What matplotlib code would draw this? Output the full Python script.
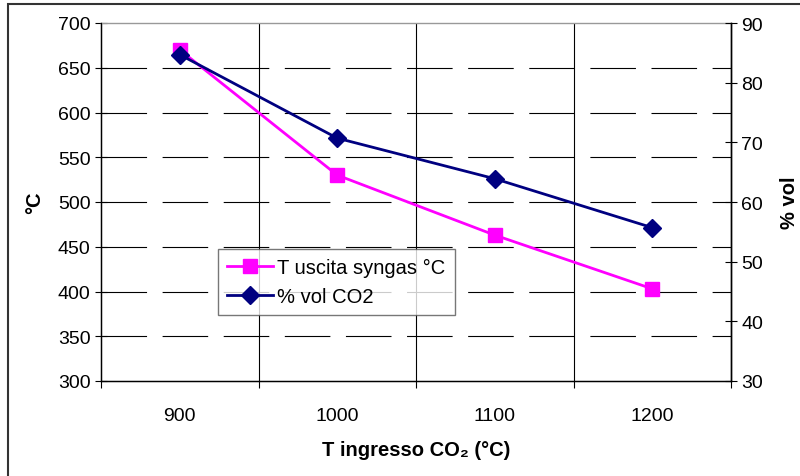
import numpy as np
import matplotlib.pyplot as plt
from matplotlib.patches import Rectangle

plt.rcParams['font.family'] = ['Liberation Sans', 'DejaVu Sans']

# data
categories = ['900', '1000', '1100', '1200']
t_uscita = [670, 530, 463, 403]       # T uscita syngas °C (left axis)
vol_co2 = [84.7, 70.7, 63.9, 55.7]    # % vol CO2 (right axis)

pink = '#FF00FF'
navy = '#000080'

fig = plt.figure(figsize=(8, 4.77), dpi=100)
ax = fig.add_axes([101/800, 1 - 382/477, 630/800, 358/477])
ax2 = ax.twinx()

x = np.arange(len(categories))

# left axis
ax.set_xlim(-0.5, len(categories) - 0.5)
ax.set_ylim(300, 700)
ax.set_yticks(np.arange(300, 701, 50))
ax.set_xticks(x)
ax.set_xticklabels(categories)
ax.set_xticks(np.arange(-0.5, len(categories), 1), minor=True)
ax.tick_params(axis='x', which='major', length=0, pad=19, labelsize=14)
ax.tick_params(axis='x', which='minor', length=5, direction='out', width=0.8)
ax.tick_params(axis='y', length=9, direction='inout', width=0.8, labelsize=14, pad=3)

# gridlines: dashed horizontal, solid vertical at category boundaries
for v in np.arange(350, 700, 50):
    ax.axhline(v, color='black', lw=0.8, dashes=(41, 14), zorder=0)
for b in np.arange(0.5, len(categories) - 1, 1):
    ax.axvline(b, color='black', lw=0.8, zorder=0)

for s in ['left', 'bottom', 'right']:
    ax.spines[s].set_linewidth(1.0)
ax.spines['top'].set_color('#999999')
ax.spines['top'].set_linewidth(1.0)

ax.set_ylabel('°C', fontsize=14.5, fontweight='bold', labelpad=10)
ax.set_xlabel('T ingresso CO₂ (°C)', fontsize=14.5, fontweight='bold', labelpad=11)

# right axis
ax2.set_ylim(30, 90)
ax2.set_yticks(np.arange(30, 91, 10))
ax2.tick_params(axis='y', length=9, direction='inout', width=0.8, labelsize=14, pad=3)
ax2.spines['right'].set_linewidth(1.0)
ax2.spines['top'].set_visible(False)
ax2.set_ylabel('% vol', fontsize=14.5, fontweight='bold', labelpad=12, rotation=90)

l1, = ax.plot(x, t_uscita, color=pink, lw=2, marker='s', markersize=10, zorder=3)
l2, = ax2.plot(x, vol_co2, color=navy, lw=2, marker='D', markersize=9, zorder=3)

leg = ax.legend([l1, l2], ['T uscita syngas °C', '% vol CO2'],
                loc='upper left', bbox_to_anchor=((218 - 101) / 630, (382 - 250) / 358),
                fontsize=14.5, frameon=True, fancybox=False, borderpad=0.45,
                handlelength=2.3, handletextpad=0.2, labelspacing=0.5, borderaxespad=0)
leg.get_frame().set_edgecolor('#555555')
leg.get_frame().set_linewidth(1.0)
leg.set_zorder(5)

# outer chart frame
fig.patches.append(Rectangle((8/800, -0.1), 1.0, 1 - 5/477 + 0.1, transform=fig.transFigure,
                             fill=False, edgecolor='#333333', lw=1.5))

fig.savefig('out.png', dpi=100)
